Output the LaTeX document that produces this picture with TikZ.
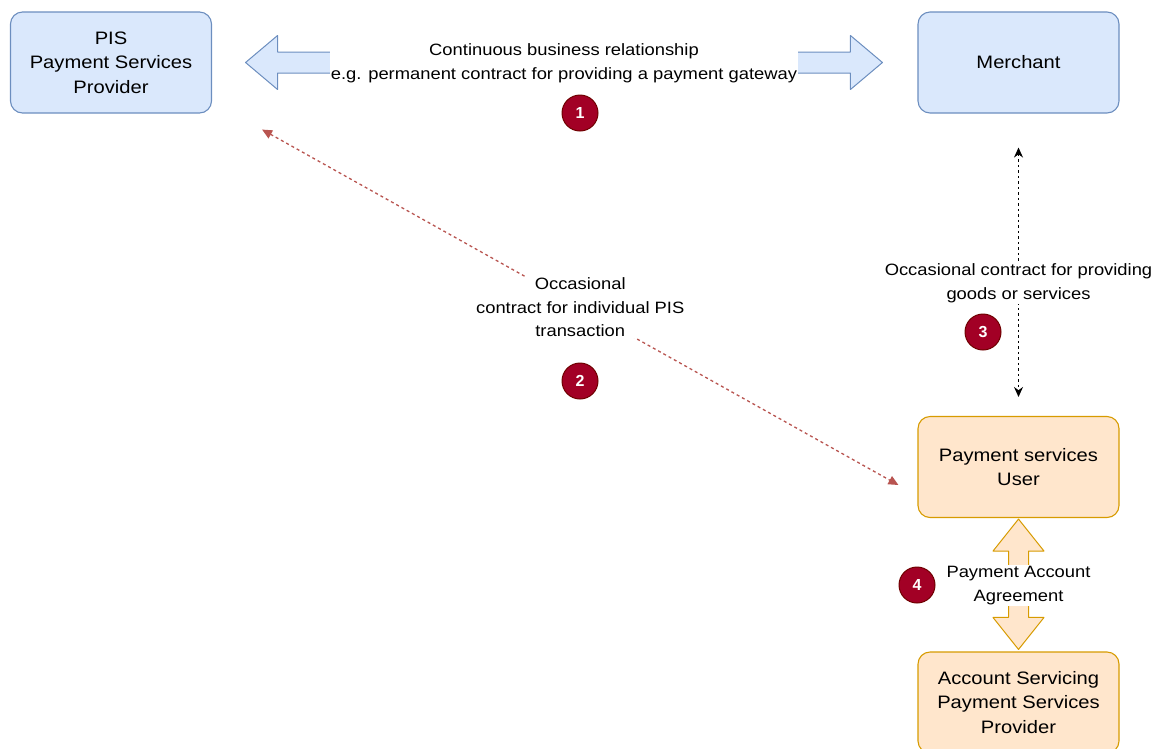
\documentclass[tikz,border=0pt]{standalone}
\usepackage{fontspec}
\setmainfont{Liberation Sans}
\newfontfamily\widesans[FakeStretch=1.12]{Liberation Sans}
\usetikzlibrary{calc,arrows.meta}

\definecolor{bluefill}{RGB}{218,232,252}
\definecolor{blueline}{RGB}{108,142,191}
\definecolor{orangefill}{RGB}{255,230,204}
\definecolor{orangeline}{RGB}{215,155,0}
\definecolor{dashred}{RGB}{184,84,80}
\definecolor{badgered}{RGB}{162,0,37}
\definecolor{badgeline}{RGB}{111,0,0}

\tikzset{
  partybox/.style={rectangle, rounded corners=12pt, minimum width=201pt, minimum height=101pt,
    line width=1.1pt, align=center, font=\widesans\fontsize{18}{24.5}\selectfont},
  bluebox/.style={partybox, fill=bluefill, draw=blueline},
  orangebox/.style={partybox, fill=orangefill, draw=orangeline},
  linklabel/.style={fill=white, inner sep=1pt, align=center, font=\widesans\fontsize{16.4}{23.5}\selectfont},
  badge/.style={circle, fill=badgered, draw=badgeline, line width=1pt, minimum size=36pt, inner sep=0pt,
    text=white, font=\fontsize{16}{16}\selectfont\bfseries},
}

\begin{document}
\begin{tikzpicture}[x=1pt,y=1pt,yscale=-1,xscale=1]
\useasboundingbox (0,0) rectangle (1157,748);

% Parties
\node[bluebox] (pisp) at (111,62.5) {PIS\\Payment Services\\Provider};
\node[bluebox] (merchant) at (1018.5,62.5) {Merchant};
\node[orangebox] (psu) at (1018.5,467) {Payment services\\User};
\node[orangebox] (aspsp) at (1018.5,702.5) {Account Servicing\\Payment Services\\Provider};

% Block arrow 1 (PIS <-> Merchant)
\coordinate (bl) at ([xshift=33.5pt]pisp.east);
\coordinate (br) at ([xshift=-35pt]merchant.west);
\draw[blueline, fill=bluefill, line width=1pt, line join=round]
  (bl) -- ($(bl)+(32,-27)$) -- ($(bl)+(32,-10.5)$) -- ($(br)+(-32,-10.5)$) -- ($(br)+(-32,-27)$)
  -- (br) -- ($(br)+(-32,27)$) -- ($(br)+(-32,10.5)$) -- ($(bl)+(32,10.5)$) -- ($(bl)+(32,27)$) -- cycle;
\node[linklabel] (lbl1) at ($(bl)!0.5!(br)+(0,1)$) {Continuous business relationship\\e.g. permanent contract for providing a payment gateway};

% Dashed arrow 2 (PIS <-> User)
\coordinate (rl) at ($(pisp.south east)+(50,16)$);
\coordinate (rr) at ($(psu.west)+(-19,18)$);
\draw[dashred, line width=1.3pt, dash pattern=on 3pt off 3pt,
  {Triangle[length=10pt,width=9pt]}-{Triangle[length=10pt,width=9pt]}] (rl) -- (rr)
  node[linklabel, pos=0.5, text=black] (lbl2) {Occasional\\contract for individual PIS\\transaction};

% Dotted arrow 3 (Merchant <-> User)
\coordinate (mt) at ([yshift=34pt]merchant.south);
\coordinate (mb) at ([yshift=-19pt]psu.north);
\draw[black, line width=1.2pt, dash pattern=on 2.5pt off 3pt,
  {Stealth[length=10pt,width=9pt]}-{Stealth[length=10pt,width=9pt]}] (mt) -- (mb)
  node[linklabel, pos=0.545] (lbl3) {Occasional contract for providing\\goods or services};

% Block arrow 4 (User <-> ASPSP)
\coordinate (ot) at ([yshift=1pt]psu.south);
\coordinate (ob) at ([yshift=-2pt]aspsp.north);
\draw[orangeline, fill=orangefill, line width=1pt, line join=round]
  (ot) -- ($(ot)+(25.5,32)$) -- ($(ot)+(10,32)$) -- ($(ob)+(10,-32)$) -- ($(ob)+(25.5,-32)$)
  -- (ob) -- ($(ob)+(-25.5,-32)$) -- ($(ob)+(-10,-32)$) -- ($(ot)+(-10,32)$) -- ($(ot)+(-25.5,32)$) -- cycle;
\node[linklabel] (lbl4) at ($(ot)!0.51!(ob)$) {Payment Account\\Agreement};

% Badges
\node[badge] (b1) at (580,113) {1};
\node[badge] (b2) at (580,381) {2};
\node[badge] (b3) at (983,332) {3};
\node[badge] (b4) at (917,585) {4};

\end{tikzpicture}
\end{document}
